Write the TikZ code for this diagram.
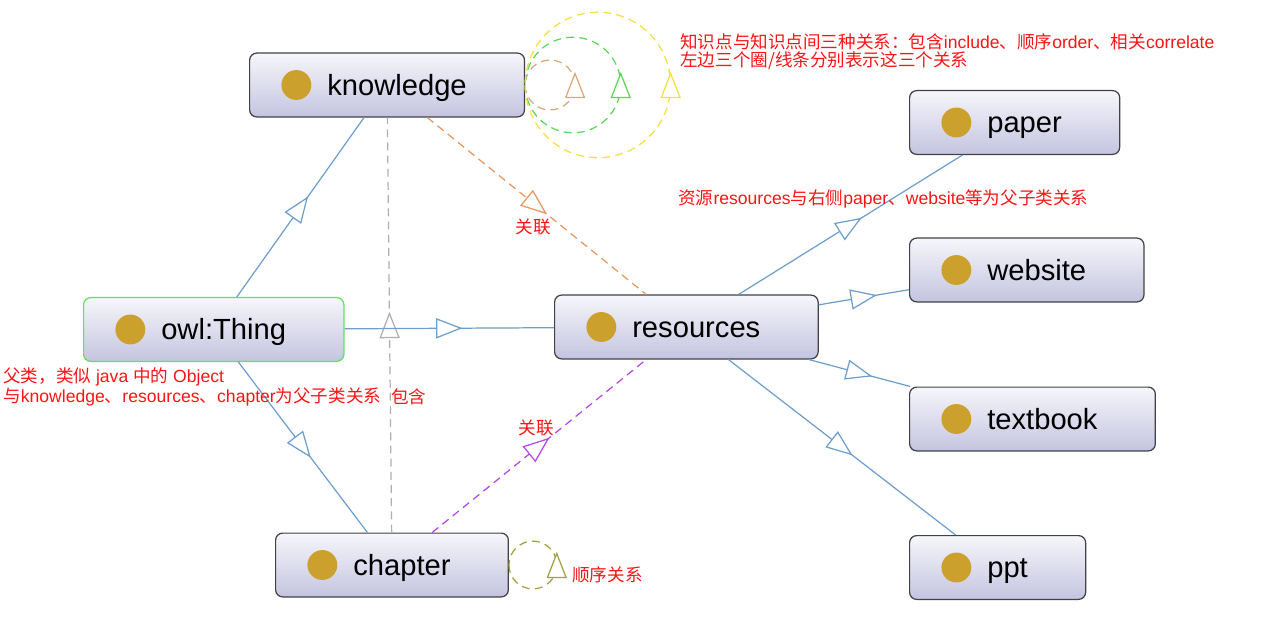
\documentclass[tikz,border=0pt]{standalone}
\usepackage{fontspec}
\setmainfont{Liberation Sans}
\newfontfamily\cjk{Noto Sans CJK SC}
\usetikzlibrary{arrows.meta,decorations.markings}
\definecolor{isablue}{RGB}{110,158,204}
\definecolor{boxtop}{RGB}{246,246,251}
\definecolor{boxbot}{RGB}{196,196,224}
\definecolor{boxline}{RGB}{65,65,70}
\definecolor{dotgold}{RGB}{204,160,44}
\definecolor{notered}{RGB}{255,20,20}
\definecolor{relorange}{RGB}{228,150,95}
\definecolor{reltan}{RGB}{216,168,120}
\definecolor{relgreen}{RGB}{90,215,90}
\definecolor{relyellow}{RGB}{250,222,60}
\definecolor{relolive}{RGB}{160,160,64}
\definecolor{relpurple}{RGB}{180,70,235}
\definecolor{relgray}{RGB}{175,175,175}
\definecolor{thinggreen}{RGB}{100,222,100}
\begin{document}
\begin{tikzpicture}[x=0.02cm,y=0.02cm,
  cls/.style={draw=boxline, line width=0.7pt, rounded corners=4pt,
    top color=boxtop, bottom color=boxbot, minimum height=36.3pt,
    inner xsep=32.9pt, inner ysep=0pt, text height=14pt, text depth=2.6pt,
    anchor=west, font=\fontsize{16.6}{20}\selectfont,
    execute at begin node=\hspace{11.3pt},
    path picture={\fill[dotgold] ([xshift=26.6pt]path picture bounding box.west) circle (8.5pt);}},
  note/.style={text=notered, font=\fontsize{10}{10.2}\selectfont, anchor=west, inner sep=0pt, align=left},
  mid/.style={postaction={decorate}, decoration={markings,
    mark=at position 0.5 with {\arrow[xshift=7.5pt]{Triangle[length=15pt,width=11.5pt,fill=white]}}}},
  isa/.style={draw=isablue, line width=0.7pt, mid},
  rel/.style={line width=0.7pt, dash pattern=on 4.5pt off 3pt, mid}]
\useasboundingbox (0,0) rectangle (1280,623);

% classes
\node[cls] (knowledge) at (249,538) {knowledge};
\node[cls, draw=thinggreen] (thing) at (83,293.5) {owl:Thing};
\node[cls] (resources) at (554,296) {resources};
\node[cls] (chapter) at (275,58) {chapter};
\node[cls] (paper) at (909,500.5) {paper};
\node[cls] (website) at (909,353) {website};
\node[cls] (textbook) at (909,204) {textbook};
\node[cls] (ppt) at (909,55.5) {ppt};

% relations
\draw[rel, relgray] (chapter) -- (knowledge);
\draw[isa] (thing) -- (knowledge);
\draw[isa] (thing) -- (chapter);
\draw[isa] (thing) -- (resources);
\foreach \c in {paper,website,textbook,ppt}
  \draw[isa] (resources) -- (\c);
\draw[rel, relorange] (knowledge) -- (resources);
\draw[rel, relpurple] (chapter) -- (resources);

% self loops
\draw[rel, reltan] (knowledge.east) arc[start angle=180, delta angle=360, radius=14.2pt];
\draw[rel, relgreen] (knowledge.east) arc[start angle=180, delta angle=360, radius=27.2pt];
\draw[rel, relyellow] (knowledge.east) arc[start angle=180, delta angle=360, radius=41.4pt];
\draw[rel, relolive] (chapter.east) arc[start angle=180, delta angle=360, radius=13.6pt];

% notes
\node[note] (kindnote) at (680,571) {{\cjk 知识点与知识点间三种关系：包含}include{\cjk 、顺序}order{\cjk 、相关}correlate\\{\cjk 左边三个圈/线条分别表示这三个关系}};
\node[note] (resnote) at (678,424) {{\cjk 资源}resources{\cjk 与右侧}paper{\cjk 、}website{\cjk 等为父子类关系}};
\node[note] (thingnote) at (3,236) {{\cjk 父类，类似} java {\cjk 中的} Object\\{\cjk 与}knowledge{\cjk 、}resources{\cjk 、}chapter{\cjk 为父子类关系}};
\node[note] (inclabel) at (391,226) {\cjk 包含};
\node[note, anchor=center] (corlabel) at (533,396) {\cjk 关联};
\node[note, anchor=center] (corlabelb) at (536,195) {\cjk 关联};
\node[note] (ordlabel) at (572,48) {\cjk 顺序关系};
\end{tikzpicture}
\end{document}
